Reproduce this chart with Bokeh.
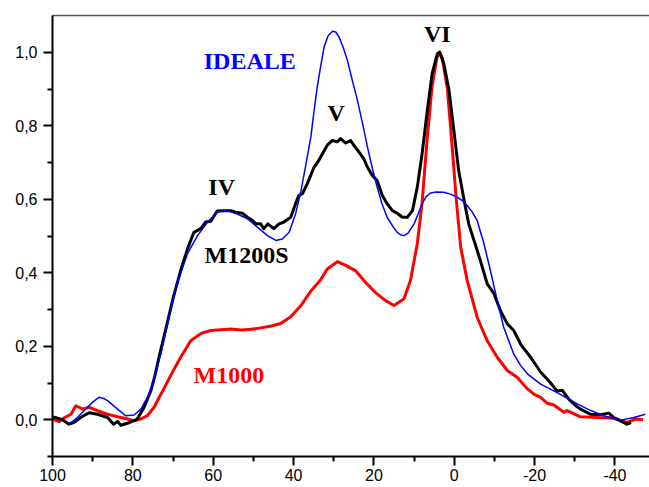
from bokeh.plotting import figure
from bokeh.models import Range1d, FixedTicker, LinearAxis, Label
from bokeh.embed import file_html
from bokeh.resources import INLINE

# ---- data ----
m1200s_x = [99.8, 97.5, 95.9, 94.6, 93.0, 90.9, 88.8, 86.3, 84.8, 83.8, 83.0, 81.2, 78.9, 77.2, 75.5,
            74.5, 73.5, 71.5, 70.0, 68.1, 66.4, 64.8, 63.1, 61.9, 60.6, 59.0, 57.3, 55.6, 54.4, 52.7,
            51.5, 50.2, 49.4, 48.2, 47.4, 46.4, 44.9, 43.6, 42.4, 40.7, 39.5, 38.7, 37.8, 36.6, 34.9,
            33.7, 32.8, 31.6, 30.3, 29.1, 28.3, 27.0, 25.8, 25.0, 23.7, 22.5, 21.6, 20.4, 19.2, 17.9,
            16.7, 15.4, 14.2, 12.9, 11.7, 10.4, 9.2, 8.0, 6.7, 5.5, 4.2, 3.6, 2.6, 1.3, 0.1,
            -1.1, -2.4, -3.6, -5.3, -6.5, -8.2, -9.9, -11.5, -13.2, -14.8, -16.5, -19.0, -21.5, -24.0,
            -25.6, -26.9, -28.5, -30.6, -31.4, -33.9, -36.4, -38.5, -39.7, -41.4, -43.0, -44.0]
m1200s_y = [0.008, 0.000, -0.012, -0.007, 0.006, 0.019, 0.015, 0.006, -0.012, -0.005, -0.015, -0.009, 0.002, 0.034, 0.079,
            0.120, 0.170, 0.260, 0.330, 0.406, 0.465, 0.510, 0.520, 0.538, 0.540, 0.568, 0.569, 0.569, 0.565, 0.562,
            0.551, 0.542, 0.533, 0.533, 0.520, 0.533, 0.520, 0.533, 0.538, 0.551, 0.588, 0.610, 0.615, 0.642, 0.687,
            0.706, 0.724, 0.747, 0.760, 0.756, 0.765, 0.753, 0.760, 0.747, 0.728, 0.710, 0.687, 0.665, 0.651, 0.610,
            0.588, 0.569, 0.562, 0.551, 0.551, 0.569, 0.633, 0.724, 0.842, 0.942, 0.996, 1.000, 0.969, 0.896, 0.787,
            0.678, 0.600, 0.533, 0.475, 0.433, 0.370, 0.343, 0.297, 0.261, 0.243, 0.206, 0.170, 0.130, 0.100,
            0.078, 0.080, 0.056, 0.035, 0.029, 0.015, 0.014, 0.018, 0.006, -0.003, -0.012, -0.008]

ideale_x = [95.9, 93.8, 91.3, 89.8, 88.4, 87.3, 86.3, 83.8, 81.8, 79.7, 78.0, 76.4, 75.1, 73.0, 71.0,
            69.0, 66.4, 63.9, 61.4, 59.0, 56.5, 54.0, 51.5, 49.0, 46.5, 44.4, 42.8, 41.1, 39.5, 38.2,
            37.0, 35.7, 34.9, 34.1, 33.2, 32.4, 31.4, 30.3, 29.5, 28.7, 27.7, 26.6, 25.4, 24.1, 22.8,
            21.6, 20.4, 19.2, 18.0, 16.7, 15.4, 14.2, 13.3, 12.5, 11.5, 10.0, 9.0, 8.0, 7.0, 5.9,
            4.5, 2.6, 1.0, -0.7, -2.0, -3.2, -4.5, -5.7, -7.4, -9.0, -10.7, -12.3, -14.8, -16.5,
            -18.2, -21.5, -25.6, -30.6, -34.0, -37.2, -41.4, -44.7, -47.6]
ideale_y = [-0.012, 0.006, 0.034, 0.050, 0.061, 0.058, 0.052, 0.029, 0.011, 0.013, 0.029, 0.061, 0.097, 0.180, 0.280,
            0.370, 0.452, 0.501, 0.538, 0.565, 0.569, 0.560, 0.547, 0.524, 0.501, 0.488, 0.492, 0.510, 0.560, 0.620,
            0.690, 0.769, 0.840, 0.905, 0.965, 1.014, 1.045, 1.057, 1.055, 1.042, 1.015, 0.978, 0.925, 0.869, 0.805,
            0.742, 0.685, 0.633, 0.588, 0.551, 0.528, 0.510, 0.503, 0.501, 0.508, 0.533, 0.560, 0.588, 0.607, 0.617,
            0.620, 0.619, 0.614, 0.606, 0.596, 0.583, 0.565, 0.542, 0.479, 0.406, 0.324, 0.252, 0.179, 0.148,
            0.125, 0.097, 0.074, 0.043, 0.025, 0.011, -0.001, 0.006, 0.015]

m1000_x = [100.0, 98.3, 97.1, 95.4, 94.2, 93.4, 92.5, 90.9, 88.8, 86.3, 83.8, 81.3, 79.7, 78.0, 76.4,
           74.7, 73.5, 72.0, 70.6, 68.1, 65.6, 63.0, 60.6, 58.0, 55.6, 53.0, 50.5, 48.2, 45.5, 43.2,
           40.7, 38.2, 35.7, 33.3, 31.6, 29.1, 27.0, 24.5, 22.0, 19.6, 17.1, 15.0, 12.5, 10.9, 9.2,
           8.0, 6.7, 5.5, 4.4, 3.8, 3.0, 1.7, 0.5, -0.5, -1.6, -3.2, -5.7, -8.2, -10.7, -13.2,
           -15.7, -18.2, -19.8, -21.5, -23.1, -24.8, -27.3, -28.1, -31.4, -35.6, -39.7, -43.0, -45.2, -47.0]
m1000_y = [0.002, -0.005, 0.005, 0.015, 0.038, 0.034, 0.029, 0.034, 0.025, 0.015, 0.008, 0.002, -0.003, 0.002, 0.011,
           0.034, 0.060, 0.090, 0.120, 0.170, 0.215, 0.235, 0.243, 0.245, 0.247, 0.244, 0.246, 0.250, 0.255, 0.262,
           0.280, 0.310, 0.350, 0.380, 0.410, 0.430, 0.420, 0.405, 0.373, 0.346, 0.324, 0.311, 0.329, 0.379, 0.479,
           0.590, 0.770, 0.910, 0.980, 1.000, 0.985, 0.900, 0.740, 0.600, 0.470, 0.380, 0.279, 0.215, 0.170, 0.134,
           0.115, 0.084, 0.070, 0.061, 0.045, 0.040, 0.020, 0.025, 0.008, 0.006, 0.004, -0.007, 0.002, 0.000]

x_major = [100, 80, 60, 40, 20, 0, -20, -40]
x_minor = [90, 70, 50, 30, 10, -10, -30]
x_labels = ["100", "80", "60", "40", "20", "0", "-20", "-40"]
y_major = [0.0, 0.2, 0.4, 0.6, 0.8, 1.0]
y_minor = [-0.1, 0.1, 0.3, 0.5, 0.7, 0.9]
y_labels = ["0,0", "0,2", "0,4", "0,6", "0,8", "1,0"]

annotations = [
    ("IDEALE", 50.9, 0.975, "#0000ff"),
    ("V", 29.4, 0.835, "#000000"),
    ("VI", 4.2, 1.051, "#000000"),
    ("IV", 57.9, 0.633, "#000000"),
    ("M1200S", 51.7, 0.449, "#000000"),
    ("M1000", 56.1, 0.122, "#ff0000"),
]

# ---- figure ----
p = figure(width=649, height=487, output_backend="svg", toolbar_location=None,
           x_range=Range1d(100, -48.6), y_range=Range1d(-0.1, 1.1),
           min_border_left=52, min_border_right=0, min_border_top=15, min_border_bottom=31)
p.outline_line_color = None
p.xgrid.visible = False
p.ygrid.visible = False
p.background_fill_color = "white"
p.border_fill_color = "white"

p.line(m1000_x, m1000_y, line_color="#ff0000", line_width=3, line_join="round")
p.line(m1200s_x, m1200s_y, line_color="#000000", line_width=3, line_join="round")
p.line(ideale_x, ideale_y, line_color="#0000ff", line_width=1.5, line_join="round")

for ax in (p.xaxis[0], p.yaxis[0]):
    ax.axis_line_color = "black"
    ax.axis_line_width = 2
    ax.major_tick_line_color = "black"
    ax.major_tick_line_width = 2
    ax.minor_tick_line_color = "black"
    ax.minor_tick_line_width = 2
    ax.major_tick_in = 0
    ax.major_tick_out = 9
    ax.minor_tick_in = 0
    ax.minor_tick_out = 5
    ax.major_label_text_font = "Liberation Sans"
    ax.major_label_text_font_size = "16px"
    ax.major_label_text_color = "black"

p.xaxis[0].ticker = FixedTicker(ticks=x_major, minor_ticks=x_minor)
p.xaxis[0].major_label_overrides = {t: l for t, l in zip(x_major, x_labels)}
p.xaxis[0].major_label_standoff = 3
p.yaxis[0].ticker = FixedTicker(ticks=y_major, minor_ticks=y_minor)
p.yaxis[0].major_label_overrides = {t: l for t, l in zip(y_major, y_labels)}
p.yaxis[0].major_label_standoff = 6

top = LinearAxis(ticker=FixedTicker(ticks=[], minor_ticks=[]))
top.axis_line_color = "#555555"
top.axis_line_width = 1.5
top.major_tick_line_color = None
top.minor_tick_line_color = None
p.add_layout(top, "above")

for txt, x, y, col in annotations:
    p.add_layout(Label(x=x, y=y, text=txt, text_color=col, text_font="Liberation Serif",
                       text_font_style="bold", text_font_size="24px",
                       text_align="center", text_baseline="middle"))

open("out.html", "w").write(file_html(p, INLINE))
